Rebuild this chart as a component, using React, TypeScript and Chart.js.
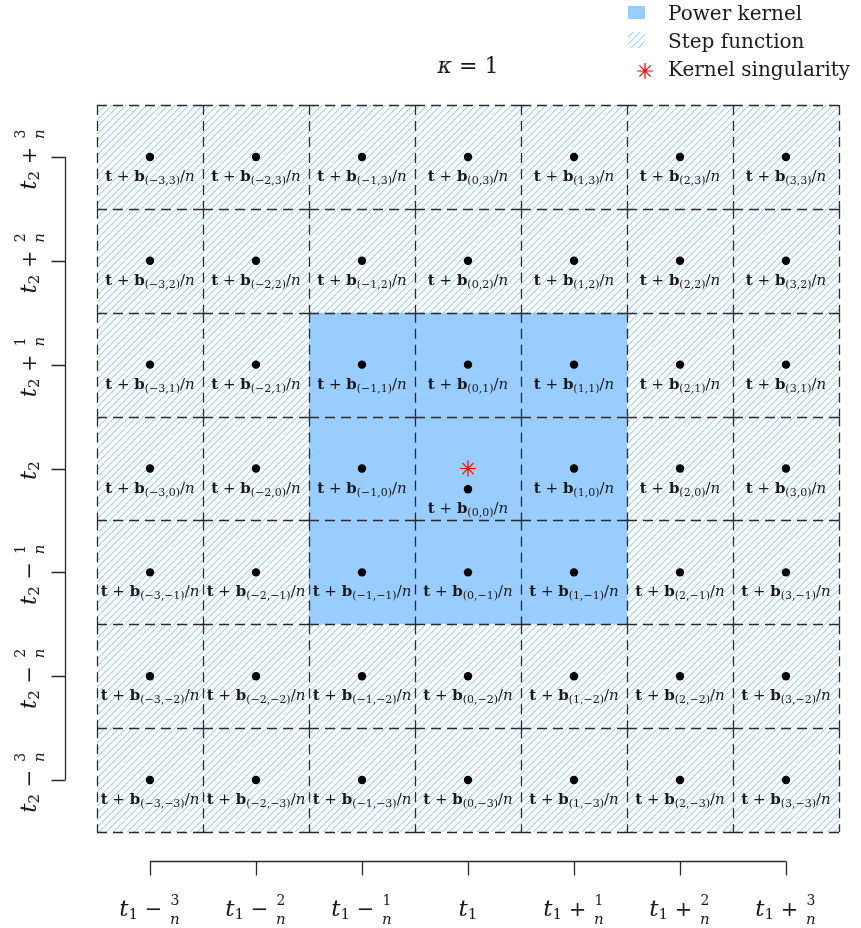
import React, { useEffect, useRef } from "react";
import { Chart, registerables } from "chart.js";

Chart.register(...registerables);

// ---- data ----
const offsets = [-3, -2, -1, 0, 1, 2, 3];
const tickSigns = ["−", "−", "−", "", "+", "+", "+"];
const tickNumerators = ["3", "2", "1", "", "1", "2", "3"];
const stepBounds = [-3.5, 3.5];
const kernelBounds = [-1.5, 1.5];
const singularity = [0, 0];
const centerPointShift = -0.2;
const titleParts = ["κ", " = 1"];
const legendLabels = ["Power kernel", "Step function", "Kernel singularity"];

const SERIF = '"DejaVu Serif", serif';
const KERNEL_BLUE = "#99CCFF";
const INK = "#1a1a1a";

function pieceWidth(ctx: CanvasRenderingContext2D, p: any) {
  if (p.num !== undefined) {
    ctx.font = p.nf;
    const a = ctx.measureText(p.num).width;
    ctx.font = p.df;
    const b = ctx.measureText(p.den).width;
    return Math.max(a, b) + 2;
  }
  ctx.font = p.f;
  return ctx.measureText(p.t).width;
}

function drawPieces(ctx: CanvasRenderingContext2D, pieces: any[], cx: number, baseY: number) {
  let w = 0;
  for (const p of pieces) w += pieceWidth(ctx, p);
  let x = cx - w / 2;
  ctx.textBaseline = "alphabetic";
  ctx.textAlign = "left";
  for (const p of pieces) {
    const pw = pieceWidth(ctx, p);
    if (p.num !== undefined) {
      ctx.font = p.nf;
      const a = ctx.measureText(p.num).width;
      ctx.fillText(p.num, x + (pw - a) / 2, baseY + p.nDy);
      ctx.font = p.df;
      const b = ctx.measureText(p.den).width;
      ctx.fillText(p.den, x + (pw - b) / 2, baseY + p.dDy);
    } else {
      ctx.font = p.f;
      ctx.fillText(p.t, x, baseY + (p.dy || 0));
    }
    x += pw;
  }
}

function tickPieces(k: number, sub: string): any[] {
  const pieces: any[] = [
    { t: "t", f: `italic 23px ${SERIF}` },
    { t: sub, f: `15px ${SERIF}`, dy: 3 },
  ];
  if (tickSigns[k]) {
    pieces.push({ t: ` ${tickSigns[k]} `, f: `21px ${SERIF}` });
    pieces.push({
      num: tickNumerators[k],
      den: "n",
      nf: `14px ${SERIF}`,
      df: `italic 15px ${SERIF}`,
      nDy: -11,
      dDy: 8,
    });
  }
  return pieces;
}

function fmt(v: number) {
  return v < 0 ? `−${-v}` : `${v}`;
}

function makeHatch(): CanvasPattern | string {
  const n = 7;
  const c = document.createElement("canvas");
  c.width = n;
  c.height = n;
  const g = c.getContext("2d");
  if (!g) return KERNEL_BLUE;
  const img = g.createImageData(n, n);
  for (let o = 0; o < img.data.length; o += 4) {
    img.data[o] = 255;
    img.data[o + 1] = 255;
    img.data[o + 2] = 255;
    img.data[o + 3] = 255;
  }
  const set = (x: number, y: number, rgb: number[]) => {
    const xx = ((x % n) + n) % n;
    const yy = ((y % n) + n) % n;
    const o = (yy * n + xx) * 4;
    img.data[o] = rgb[0];
    img.data[o + 1] = rgb[1];
    img.data[o + 2] = rgb[2];
  };
  for (let k = 0; k < n; k++) {
    set(k, n - 1 - k, [155, 205, 252]);
    set(k + 1, n - 1 - k, [222, 238, 254]);
  }
  g.putImageData(img, 0, 0);
  const p = g.createPattern(c, "repeat");
  return p || KERNEL_BLUE;
}

function drawAsterisk(ctx: CanvasRenderingContext2D, x: number, y: number, r: number) {
  ctx.save();
  ctx.strokeStyle = "#ff0000";
  ctx.lineWidth = 1.2;
  ctx.beginPath();
  for (let a = 0; a < 4; a++) {
    const ang = (a * Math.PI) / 4;
    ctx.moveTo(x - r * Math.cos(ang), y - r * Math.sin(ang));
    ctx.lineTo(x + r * Math.cos(ang), y + r * Math.sin(ang));
  }
  ctx.stroke();
  ctx.restore();
}

export default function App() {
  const ref = useRef<HTMLCanvasElement | null>(null);

  useEffect(() => {
    const canvas = ref.current;
    if (!canvas) return;
    const hatch = makeHatch();

    const pointData: any[] = [];
    for (const j of [...offsets].reverse()) {
      for (const i of offsets) {
        pointData.push({ x: i, y: i === 0 && j === 0 ? j + centerPointShift : j, i, j });
      }
    }

    const gridPlugin = {
      id: "gridCells",
      afterDatasetsDraw(chart: any) {
        const { ctx } = chart;
        const xs = chart.scales.x;
        const ys = chart.scales.y;
        ctx.save();
        ctx.strokeStyle = "#2a2a2a";
        ctx.lineWidth = 1.3;
        ctx.setLineDash([10, 6]);
        const edges = offsets.map((v) => v - 0.5).concat([offsets[offsets.length - 1] + 0.5]);
        for (const ey of edges) {
          const py = Math.round(ys.getPixelForValue(ey)) + 0.5;
          for (const i of offsets) {
            ctx.beginPath();
            ctx.moveTo(xs.getPixelForValue(i - 0.5), py);
            ctx.lineTo(xs.getPixelForValue(i + 0.5), py);
            ctx.stroke();
          }
        }
        for (const ex of edges) {
          const px = Math.round(xs.getPixelForValue(ex)) + 0.5;
          for (const j of offsets) {
            ctx.beginPath();
            ctx.moveTo(px, ys.getPixelForValue(j + 0.5));
            ctx.lineTo(px, ys.getPixelForValue(j - 0.5));
            ctx.stroke();
          }
        }
        ctx.restore();
      },
    };

    const annoPlugin = {
      id: "annotations",
      afterDraw(chart: any) {
        const { ctx, chartArea } = chart;
        const xs = chart.scales.x;
        const ys = chart.scales.y;
        ctx.save();
        ctx.fillStyle = INK;

        // point labels
        const meta = chart.getDatasetMeta(2);
        const ds = chart.data.datasets[2].data as any[];
        meta.data.forEach((el: any, k: number) => {
          const d = ds[k];
          const pieces = [
            { t: "t", f: `bold 15px ${SERIF}` },
            { t: " + ", f: `15px ${SERIF}` },
            { t: "b", f: `bold 15px ${SERIF}` },
            { t: `(${fmt(d.i)},${fmt(d.j)})`, f: `11px ${SERIF}`, dy: 3 },
            { t: "/", f: `15px ${SERIF}` },
            { t: "n", f: `italic 15px ${SERIF}` },
          ];
          drawPieces(ctx, pieces, el.x, el.y + 24);
        });

        // x axis
        const axY = chartArea.bottom + 29.5;
        ctx.strokeStyle = "#2a2a2a";
        ctx.lineWidth = 1.3;
        ctx.beginPath();
        ctx.moveTo(xs.getPixelForValue(offsets[0]), axY);
        ctx.lineTo(xs.getPixelForValue(offsets[offsets.length - 1]), axY);
        offsets.forEach((v) => {
          const px = Math.round(xs.getPixelForValue(v)) + 0.5;
          ctx.moveTo(px, axY);
          ctx.lineTo(px, axY + 14);
        });
        ctx.stroke();
        offsets.forEach((v, k) => {
          drawPieces(ctx, tickPieces(k, "1"), xs.getPixelForValue(v), axY + 54);
        });

        // y axis
        const axX = chartArea.left - 31.5;
        ctx.beginPath();
        ctx.moveTo(axX, ys.getPixelForValue(offsets[0]));
        ctx.lineTo(axX, ys.getPixelForValue(offsets[offsets.length - 1]));
        offsets.forEach((v) => {
          const py = Math.round(ys.getPixelForValue(v)) + 0.5;
          ctx.moveTo(axX, py);
          ctx.lineTo(axX - 14, py);
        });
        ctx.stroke();
        offsets.forEach((v, k) => {
          ctx.save();
          ctx.translate(axX - 30, ys.getPixelForValue(v) + 2);
          ctx.rotate(-Math.PI / 2);
          drawPieces(ctx, tickPieces(k, "2"), 0, 0);
          ctx.restore();
        });

        // title
        drawPieces(
          ctx,
          [
            { t: titleParts[0], f: `italic 22px ${SERIF}` },
            { t: titleParts[1], f: `22px ${SERIF}` },
          ],
          (chartArea.left + chartArea.right) / 2,
          73
        );

        // legend
        const lx = 628;
        const tx = 668;
        ctx.fillStyle = KERNEL_BLUE;
        ctx.fillRect(lx, 6, 17, 13);
        ctx.save();
        ctx.beginPath();
        ctx.rect(lx, 32, 17, 16);
        ctx.clip();
        ctx.fillStyle = hatch as any;
        ctx.fillRect(lx, 32, 17, 16);
        ctx.restore();
        drawAsterisk(ctx, lx + 17, 71, 8);
        ctx.fillStyle = INK;
        ctx.font = `20px ${SERIF}`;
        ctx.textAlign = "left";
        ctx.textBaseline = "alphabetic";
        ctx.fillText(legendLabels[0], tx, 20);
        ctx.fillText(legendLabels[1], tx, 48);
        ctx.fillText(legendLabels[2], tx, 76);

        ctx.restore();
      },
    };

    const chart = new Chart(canvas, {
      type: "scatter",
      data: {
        datasets: [
          {
            type: "line",
            label: legendLabels[1],
            data: [
              { x: stepBounds[0], y: stepBounds[1] },
              { x: stepBounds[1], y: stepBounds[1] },
            ],
            fill: { value: stepBounds[0] },
            backgroundColor: hatch as any,
            borderWidth: 0,
            pointRadius: 0,
            order: 4,
          } as any,
          {
            type: "line",
            label: legendLabels[0],
            data: [
              { x: kernelBounds[0], y: kernelBounds[1] },
              { x: kernelBounds[1], y: kernelBounds[1] },
            ],
            fill: { value: kernelBounds[0] },
            backgroundColor: KERNEL_BLUE,
            borderWidth: 0,
            pointRadius: 0,
            order: 3,
          } as any,
          {
            label: "points",
            data: pointData,
            backgroundColor: "#000000",
            borderWidth: 0,
            pointRadius: 4.2,
            order: 2,
          },
          {
            label: legendLabels[2],
            data: [{ x: singularity[0], y: singularity[1] }],
            pointStyle: "star",
            pointRadius: 8,
            borderColor: "#ff0000",
            borderWidth: 1.2,
            backgroundColor: "#ff0000",
            order: 1,
          },
        ],
      },
      options: {
        responsive: false,
        animation: false,
        events: [],
        layout: { padding: { left: 97, top: 105, right: 22, bottom: 96 } },
        scales: {
          x: { type: "linear", min: stepBounds[0], max: stepBounds[1], display: false },
          y: { type: "linear", min: stepBounds[0], max: stepBounds[1], display: false },
        },
        plugins: {
          legend: { display: false },
          tooltip: { enabled: false },
        },
      },
      plugins: [gridPlugin, annoPlugin],
    });
    return () => chart.destroy();
  }, []);

  return (
    <div style={{ position: "absolute", left: 0, top: 0, width: 861, height: 928, background: "#fff" }}>
      <canvas ref={ref} width={861} height={928} style={{ display: "block" }} />
    </div>
  );
}
